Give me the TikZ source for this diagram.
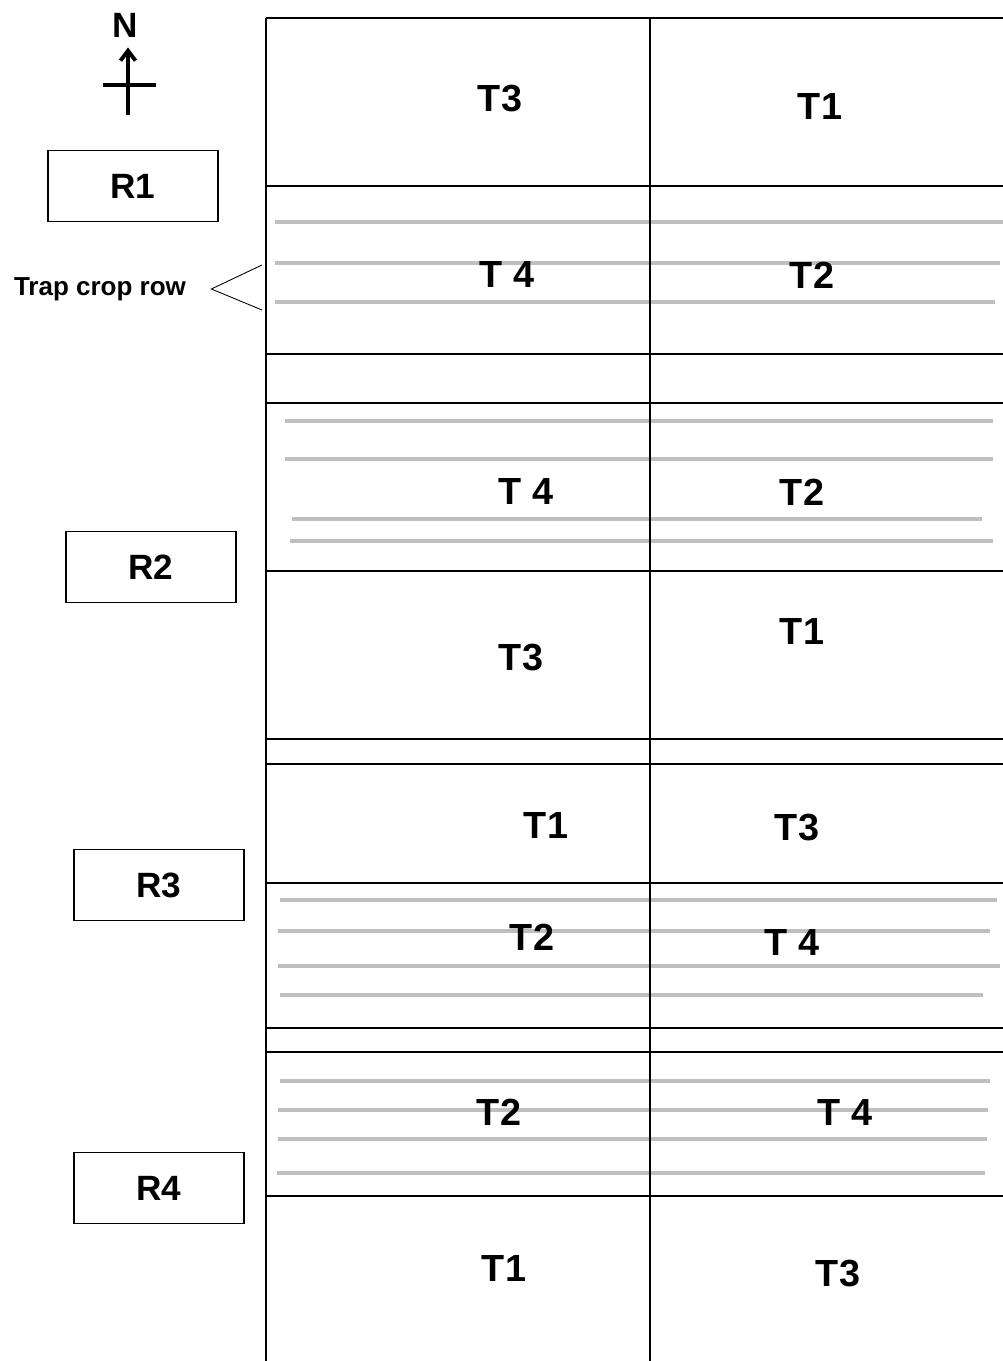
\documentclass[tikz,border=0pt]{standalone}
\usepackage{fontspec}
\setmainfont{Liberation Sans}
\usetikzlibrary{arrows.meta, positioning}

\begin{document}
\begin{tikzpicture}[
  x=0.02cm, y=-0.02cm,
  plotlbl/.style={font=\fontsize{21.5}{21.5}\selectfont\bfseries, inner sep=0pt},
  repbox/.style={draw, line width=0.8pt, minimum width=3.4cm, minimum height=1.42cm,
    font=\fontsize{20}{20}\selectfont\bfseries},
  gridline/.style={line width=1.1pt},
  traprow/.style={line width=2pt, draw=black!25},
  pointer/.style={line width=0.5pt},
]
  \useasboundingbox (0,0) rectangle (1003,1361);

  % trap crop rows
  \foreach \y/\a/\b in {222/275/1003, 263/275/1000, 302/275/995,
      421/285/993, 459/285/993, 519/292/982, 541/290/993,
      900/280/997, 931/278/990, 966/278/1000, 995/280/983,
      1081/280/990, 1110/278/988, 1139/278/987, 1173/277/985}
    \draw[traprow] (\a,\y) -- (\b,\y);

  % field layout
  \foreach \y in {18,186,354,403,571,739,764,883,1028,1052,1196}
    \draw[gridline] (266,\y) -- (1003,\y);
  \draw[gridline] (266,18) -- (266,1361);
  \draw[gridline] (650,18) -- (650,1361);

  % treatments
  \node[plotlbl] (p1a) at (500,99) {T3};
  \node[plotlbl] (p1b) at (820,107) {T1};
  \node[plotlbl] (p2a) at (507,275) {T 4};
  \node[plotlbl] (p2b) at (812,275) {T2};
  \node[plotlbl] (p3a) at (526,492) {T 4};
  \node[plotlbl] (p3b) at (802,492) {T2};
  \node[plotlbl] (p4a) at (521,658) {T3};
  \node[plotlbl] (p4b) at (802,632) {T1};
  \node[plotlbl] (p5a) at (546,825) {T1};
  \node[plotlbl] (p5b) at (797,828) {T3};
  \node[plotlbl] (p6a) at (532,937) {T2};
  \node[plotlbl] (p6b) at (792,942) {T 4};
  \node[plotlbl] (p7a) at (499,1112) {T2};
  \node[plotlbl] (p7b) at (845,1112) {T 4};
  \node[plotlbl] (p8a) at (504,1268) {T1};
  \node[plotlbl] (p8b) at (838,1274) {T3};

  % replications
  \node[repbox] (r1) at (133,186) {R1};
  \node[repbox] (r2) at (151,567) {R2};
  \node[repbox] (r3) at (159,885) {R3};
  \node[repbox] (r4) at (159,1188) {R4};

  % north sign
  \node[font=\fontsize{20}{20}\selectfont\bfseries, inner sep=0pt] (north) at (125,25) {N};
  \coordinate (nfoot) at (128,115);
  \coordinate (nwest) at (103,85);
  \coordinate (neast) at (156,85);
  \draw[line width=2.2pt, -{Straight Barb[length=2mm, width=3mm]}, shorten >=0.2cm]
    (nfoot) -- (nfoot |- north.south);
  \draw[line width=2.2pt] (nwest) -- (neast);

  % trap crop row pointer
  \node[font=\fontsize{14.8}{14.8}\selectfont\bfseries, inner sep=0pt] (traplbl) at (100,289) {Trap crop row};
  \coordinate[right=0.5cm of traplbl] (tip);
  \coordinate (rowa) at (262,265);
  \coordinate (rowb) at (262,310);
  \draw[pointer] (rowa) -- (tip) -- (rowb);
\end{tikzpicture}
\end{document}
